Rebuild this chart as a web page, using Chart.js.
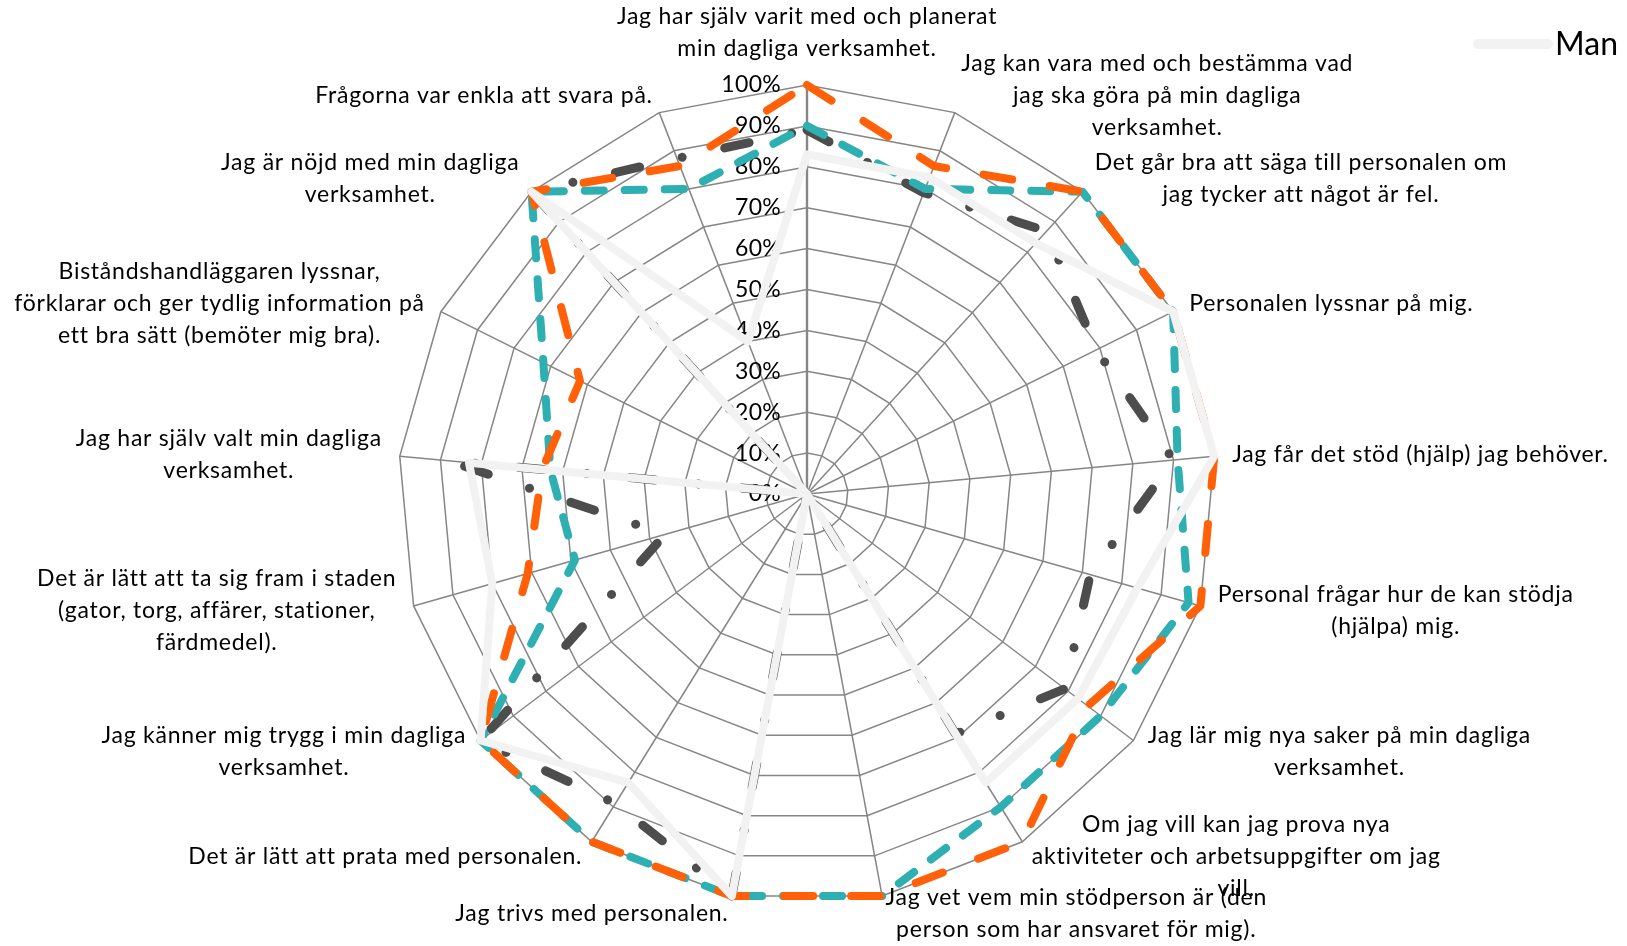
<!DOCTYPE html>
<html lang="sv">
<head>
<meta charset="utf-8">
<title>Daglig verksamhet – enkät</title>
<script src="https://cdn.jsdelivr.net/npm/chart.js@4.4.1/dist/chart.umd.min.js"></script>
<style>
  html, body { margin: 0; background: #fff; }
  #wrap { width: 1627px; height: 946px; }
</style>
</head>
<body>
<div id="wrap"><canvas id="radar"></canvas></div>
<script>
// frågorna, en rad per textrad
const fragor = [
  ['Jag har själv varit med och planerat', 'min dagliga verksamhet.'],
  ['Jag kan vara med och bestämma vad', 'jag ska göra på min dagliga', 'verksamhet.'],
  ['Det går bra att säga till personalen om', 'jag tycker att något är fel.'],
  ['Personalen lyssnar på mig.'],
  ['Jag får det stöd (hjälp) jag behöver.'],
  ['Personal frågar hur de kan stödja', '(hjälpa) mig.'],
  ['Jag lär mig nya saker på min dagliga', 'verksamhet.'],
  ['Om jag vill kan jag prova nya', 'aktiviteter och arbetsuppgifter om jag', 'vill.'],
  ['Jag vet vem min stödperson är (den', 'person som har ansvaret för mig).'],
  ['Jag trivs med personalen.'],
  ['Det är lätt att prata med personalen.'],
  ['Jag känner mig trygg i min dagliga', 'verksamhet.'],
  ['Det är lätt att ta sig fram i staden', '(gator, torg, affärer, stationer,', 'färdmedel).'],
  ['Jag har själv valt min dagliga', 'verksamhet.'],
  ['Biståndshandläggaren lyssnar,', 'förklarar och ger tydlig information på', 'ett bra sätt (bemöter mig bra).'],
  ['Jag är nöjd med min dagliga', 'verksamhet.'],
  ['Frågorna var enkla att svara på.']
];

const tickLabels = ['0%', '10%', '20%', '30%', '40%', '50%', '60%', '70%', '80%', '90%', '100%'];

// andel som svarat ja (%)
const man       = [83, 83, 83, 100, 100, 84, 83, 83, 0, 100, 83, 100, 80, 83, 0, 100, 40];
const kvinna    = [100, 86, 100, 100, 100, 100, 86, 100, 100, 100, 100, 100, 71, 65, 62, 100, 86];
const totalt    = [90, 80, 100, 100, 91, 97, 90, 90, 100, 100, 100, 100, 59, 63, 72, 100, 80];
const ejAngivet = [89, 79, 87, 79, 90, 72, 79, 69, 0, 100, 89, 100, 36, 88, 0, 100, 88];

const FONT = 'Lato, "Open Sans", sans-serif';
const LINE_H = 32;

// procentetiketter, frågetexter och förklaring ritas för hand
const texter = {
  id: 'texter',
  beforeDatasetsDraw(chart) {
    const scale = chart.scales.r;
    const ctx = chart.ctx;
    ctx.save();
    ctx.fillStyle = '#000';
    ctx.font = '23px ' + FONT;
    ctx.letterSpacing = '0.3px';
    ctx.textBaseline = 'middle';

    ctx.textAlign = 'right';
    scale.ticks.forEach((t, i) => {
      const y = scale.yCenter - scale.getDistanceFromCenterForValue(t.value);
      ctx.fillText(tickLabels[i], scale.xCenter - 26, y);
    });

    ctx.letterSpacing = '0.75px';
    ctx.textAlign = 'center';
    chart.data.labels.forEach((rader, i) => {
      const p = scale.getPointPosition(i, scale.drawingArea + 18);
      const dx = p.x - scale.xCenter;
      const dy = p.y - scale.yCenter;
      const w = Math.max(...rader.map(r => ctx.measureText(r).width));
      const h = rader.length * LINE_H;
      let cx, top;
      if (Math.abs(dx) < 5) {
        cx = p.x;
        top = dy < 0 ? p.y - h - 2 : p.y;
      } else {
        cx = dx > 0 ? p.x + w / 2 : p.x - w / 2;
        top = p.y - h / 2;
      }
      rader.forEach((r, k) => ctx.fillText(r, cx, top + LINE_H * (k + 0.5)));
    });
    ctx.restore();
  },
  afterDraw(chart) {
    const ctx = chart.ctx;
    const ds = chart.data.datasets[0];
    ctx.save();
    ctx.strokeStyle = ds.borderColor;
    ctx.lineWidth = 10;
    ctx.lineCap = 'round';
    ctx.beginPath();
    ctx.moveTo(1478, 44);
    ctx.lineTo(1548, 44);
    ctx.stroke();
    ctx.fillStyle = '#000';
    ctx.font = '32px ' + FONT;
    ctx.textAlign = 'left';
    ctx.textBaseline = 'middle';
    ctx.fillText(ds.label, 1555, 45);
    ctx.restore();
  }
};

new Chart(document.getElementById('radar'), {
  type: 'radar',
  data: {
    labels: fragor,
    datasets: [
      { label: 'Man', data: man, borderColor: '#f2f2f2', borderWidth: 8 },
      { label: 'Kvinna', data: kvinna, borderColor: '#ff6008', borderWidth: 8, borderDash: [29, 38] },
      { label: 'Totalt', data: totalt, borderColor: '#2eafb1', borderWidth: 8, borderDash: [19, 21] },
      { label: 'Ej angivet', data: ejAngivet, borderColor: '#4d4d4d', borderWidth: 9, borderDash: [25, 43.5, 0.1, 43.5] }
    ]
  },
  options: {
    responsive: true,
    maintainAspectRatio: false,
    animation: false,
    layout: { padding: { top: 85, bottom: 43, left: 0, right: 13 } },
    plugins: { legend: { display: false }, tooltip: { enabled: false } },
    elements: {
      point: { radius: 0, hoverRadius: 0 },
      line: { tension: 0, fill: false, borderJoinStyle: 'round', borderCapStyle: 'round' }
    },
    scales: {
      r: {
        min: 0,
        max: 100,
        ticks: { stepSize: 10, display: false },
        pointLabels: { display: false },
        grid: { color: '#868686', lineWidth: 1.5 },
        angleLines: { color: '#868686', lineWidth: c => c.index === 0 ? 2.4 : 1.5 }
      }
    }
  },
  plugins: [texter]
});
</script>
</body>
</html>
